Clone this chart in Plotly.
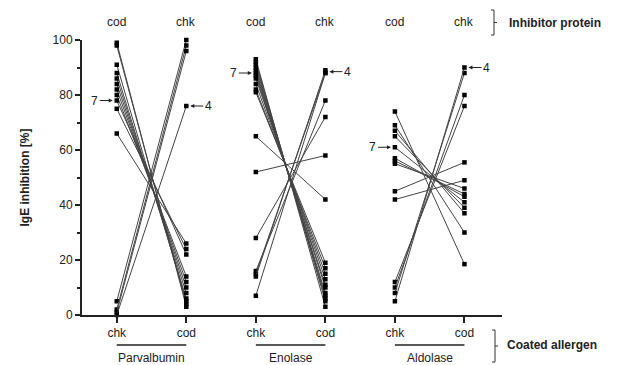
import plotly.graph_objects as go

groups = ["Parvalbumin", "Enolase", "Aldolase"]
coated_labels = ["chk", "cod", "chk", "cod", "chk", "cod"]
inhibitor_labels = ["cod", "chk", "cod", "chk", "cod", "chk"]

# left column = chk coated (cod inhibitor), right column = cod coated (chk inhibitor)
par_left = [99, 98, 91, 88, 86, 84, 82, 80, 78, 75, 66, 5, 2, 1, 0]
par_right = [3, 4, 5, 6, 8, 10, 12, 14, 22, 24, 26, 100, 98, 96, 76]

eno_left = [93, 92, 91, 90, 89, 88, 87, 86, 84, 82, 81, 65, 52, 28, 16, 15, 14, 7]
eno_right = [3, 5, 6, 7, 8, 10, 11, 13, 15, 17, 19, 42, 58, 72, 78, 88, 89, 88]

ald_left = [74, 69, 67, 65, 61, 57, 56, 55, 45, 42, 12, 10, 8, 5]
ald_right = [18.5, 30, 37, 39, 41, 43, 44, 46, 55.5, 49, 76, 80, 88, 90]

patient7 = [78, 88, 61]   # left-column value marked "7"
patient4 = [76, 88.5, 90]  # right-column value marked "4"

data = [(par_left, par_right), (eno_left, eno_right), (ald_left, ald_right)]

fig = go.Figure()
for gi, (lv, rv) in enumerate(data):
    xl, xr = 2 * gi + 1, 2 * gi + 2
    for a, b in zip(lv, rv):
        fig.add_trace(go.Scatter(
            x=[xl, xr], y=[a, b], mode="lines+markers",
            line=dict(color="#444444", width=1),
            marker=dict(symbol="square", size=4.5, color="black"),
            cliponaxis=False, showlegend=False, hoverinfo="skip"))

font = "Liberation Sans, Arial, sans-serif"
W, H = 628, 365
ml, mr, mt, mb = 82, 126, 40, 50
pw, ph = W - ml - mr, H - mt - mb


def px(xp):
    return (xp - ml) / pw


def py(yp):
    return (H - mb - yp) / ph


ann = []
for i, lab in enumerate(inhibitor_labels):
    ann.append(dict(x=i + 1, y=py(22), xref="x", yref="paper", text=lab, yanchor="middle",
                    showarrow=False, font=dict(size=12, color="#222", family=font)))
for gi, g in enumerate(groups):
    ann.append(dict(x=2 * gi + 1.5, y=py(358), xref="x", yref="paper", text=g, yanchor="middle",
                    showarrow=False, font=dict(size=12, color="#222", family=font)))
    ann.append(dict(x=2 * gi + 1, y=patient7[gi], xref="x", yref="y", text="7",
                    showarrow=True, arrowhead=2, arrowsize=0.8, arrowwidth=1, arrowcolor="#222",
                    ax=-22, ay=0, standoff=4, font=dict(size=12, color="#222", family=font)))
    ann.append(dict(x=2 * gi + 2, y=patient4[gi], xref="x", yref="y", text="4",
                    showarrow=True, arrowhead=2, arrowsize=0.8, arrowwidth=1, arrowcolor="#222",
                    ax=22, ay=0, standoff=4, font=dict(size=12, color="#222", family=font)))

ann.append(dict(x=px(507), y=py(23), xref="paper", yref="paper", text="<b>Inhibitor protein</b>",
                showarrow=False, xanchor="left", yanchor="middle",
                font=dict(size=12, color="#222", family=font)))
ann.append(dict(x=px(505), y=py(345), xref="paper", yref="paper", text="<b>Coated allergen</b>",
                showarrow=False, xanchor="left", yanchor="middle",
                font=dict(size=12, color="#222", family=font)))

shapes = []
for gi in range(3):
    shapes.append(dict(type="line", xref="x", yref="paper", x0=2 * gi + 1, x1=2 * gi + 2,
                       y0=py(345), y1=py(345), line=dict(color="#222", width=1.5)))
# brackets
for (x0, ya, yb) in [(494, 10, 35), (495, 330, 362)]:
    ym = (ya + yb) / 2
    shapes.append(dict(type="path", xref="paper", yref="paper",
                       path=f"M {px(x0 - 3)} {py(ya)} L {px(x0)} {py(ya)} L {px(x0)} {py(yb)} L {px(x0 - 3)} {py(yb)} "
                            f"M {px(x0)} {py(ym)} L {px(x0 + 3)} {py(ym)}",
                       line=dict(color="#333", width=1)))

fig.update_layout(
    width=W, height=H, margin=dict(l=ml, r=mr, t=mt, b=mb),
    paper_bgcolor="white", plot_bgcolor="white",
    font=dict(family=font, size=11, color="#222"),
    annotations=ann, shapes=shapes,
    xaxis=dict(range=[0.5, 6.54], tickmode="array", tickvals=[1, 2, 3, 4, 5, 6],
               ticktext=coated_labels, showline=True, linecolor="#222", linewidth=2,
               ticks="outside", ticklen=6, tickwidth=1.5, tickcolor="#222",
               showgrid=False, zeroline=False, tickfont=dict(size=12)),
    yaxis=dict(range=[0, 100], tickvals=[0, 20, 40, 60, 80, 100], showline=True,
               linecolor="#222", linewidth=2, ticks="outside", ticklen=5, tickwidth=1.5,
               tickcolor="#222", showgrid=False, zeroline=False,
               minor=dict(tickvals=[10, 30, 50, 70, 90], ticks="outside", ticklen=3, tickcolor="#222"),
               title=dict(text="<b>IgE inhibition [%]</b>", font=dict(size=12), standoff=20),
               tickfont=dict(size=12)),
)

fig.write_html("out.html")
